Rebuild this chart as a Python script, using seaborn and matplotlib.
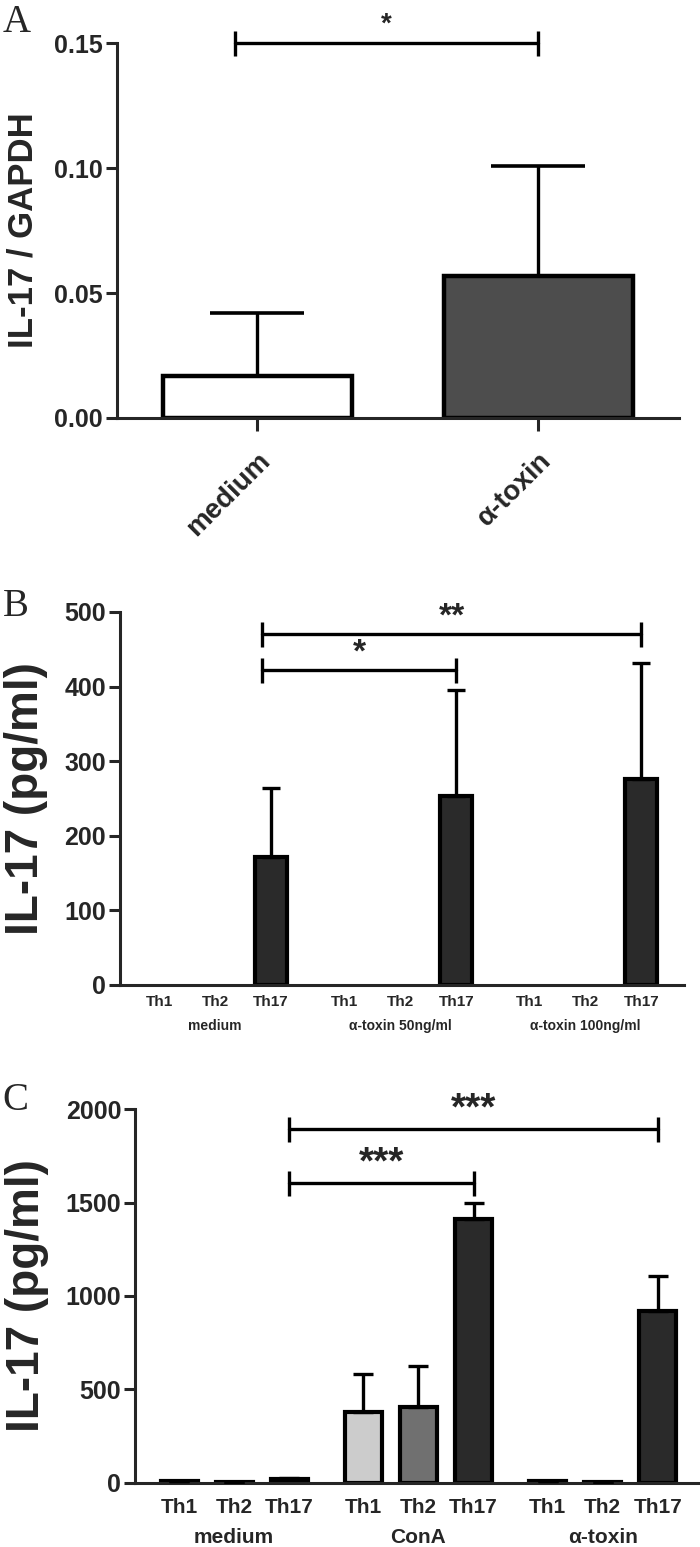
import matplotlib
matplotlib.use('Agg')
from matplotlib import pyplot as plt
from matplotlib import transforms
import seaborn as sns
import pandas as pd
import numpy as np

sns.set_style('ticks')
plt.rcParams['font.family'] = ['Liberation Sans', 'DejaVu Sans']
plt.rcParams['font.weight'] = 'bold'
plt.rcParams['axes.linewidth'] = 2.2

# ---- panel A : IL-17 mRNA relative to GAPDH ----
aTreatments = ['medium', 'α-toxin']
aMean = [0.017, 0.057]
aSem = [0.025, 0.044]
aColors = ['#ffffff', '#4d4d4d']
aSig = [('medium', 'α-toxin', 0.15, '*')]

# ---- panel B : IL-17 protein, alpha-toxin doses ----
cellTypes = ['Th1', 'Th2', 'Th17']
bGroups = ['medium', 'α-toxin 50ng/ml', 'α-toxin 100ng/ml']
bTh1Mean = [None, None, None]
bTh2Mean = [None, None, None]
bTh17Mean = [171, 253, 276]
bTh1Sem = [None, None, None]
bTh2Sem = [None, None, None]
bTh17Sem = [93, 142, 155]
bSig = [(('medium', 'Th17'), ('α-toxin 100ng/ml', 'Th17'), 471, '**'),
        (('medium', 'Th17'), ('α-toxin 50ng/ml', 'Th17'), 422, '*')]

# ---- panel C : IL-17 protein, ConA vs alpha-toxin ----
cGroups = ['medium', 'ConA', 'α-toxin']
cTh1Mean = [8, 380, 8]
cTh2Mean = [5, 404, 4]
cTh17Mean = [20, 1413, 921]
cTh1Sem = [4, 202, 4]
cTh2Sem = [2, 221, 2]
cTh17Sem = [6, 87, 186]
cSig = [(('medium', 'Th17'), ('α-toxin', 'Th17'), 1893, '***'),
        (('medium', 'Th17'), ('ConA', 'Th17'), 1604, '***')]

cellPalette = {'Th1': '#cccccc', 'Th2': '#707070', 'Th17': '#2a2a2a'}


def styleAxis(ax, tickSize):
    sns.despine(ax=ax)
    for side in ['left', 'bottom']:
        ax.spines[side].set_linewidth(2.2)
    ax.tick_params(axis='y', width=2.2, length=8, labelsize=tickSize, pad=2)
    for lab in ax.get_yticklabels():
        lab.set_fontweight('bold')


def bracket(ax, x1, x2, y, stars, starSize, offset):
    ax.plot([x1, x2], [y, y], color='black', lw=2.4, marker='|',
            markersize=18, markeredgewidth=2.4, clip_on=False, zorder=5)
    ax.annotate(stars, xy=((x1 + x2) / 2, y), xytext=(0, offset),
                textcoords='offset points', ha='center', va='center',
                fontsize=starSize, fontweight='bold', annotation_clip=False)


def groupedPanel(ax, groups, means, sems, width, gap, capsize):
    frames = []
    for cell in cellTypes:
        frames.append(pd.DataFrame({'group': groups, 'cell': cell,
                                    'mean': means[cell], 'sem': sems[cell]}))
    df = pd.concat(frames, ignore_index=True)
    df['mean'] = pd.to_numeric(df['mean'])
    df['sem'] = pd.to_numeric(df['sem'])
    slot = width / len(cellTypes)
    gIdx = df['group'].map({g: i for i, g in enumerate(groups)})
    cIdx = df['cell'].map({c: i for i, c in enumerate(cellTypes)})
    df['x'] = gIdx - width / 2 + slot * (cIdx + 0.5)
    shown = df.dropna(subset=['mean'])
    sns.barplot(data=shown, x='group', y='mean', hue='cell', order=groups,
                hue_order=cellTypes, palette=cellPalette, width=width, gap=gap,
                dodge=True, edgecolor='black', linewidth=3, errorbar=None,
                legend=False, ax=ax)
    ax.errorbar(shown['x'], shown['mean'], yerr=[np.zeros(len(shown)), shown['sem']],
                fmt='none', ecolor='black', elinewidth=2.4, capsize=capsize,
                capthick=2.4, zorder=4)
    allX = df.sort_values('x')
    ax.set_xticks(allX['x'])
    ax.set_xticklabels(allX['cell'])
    ax.tick_params(axis='x', length=0)
    return df


fig = plt.figure(figsize=(7, 15.47), dpi=100)

# ---------------- A ----------------
axA = fig.add_axes([0.167, 0.7298, 0.803, 0.2424])
dfA = pd.DataFrame({'treatment': aTreatments, 'mean': aMean, 'sem': aSem})
sns.barplot(data=dfA, x='treatment', y='mean', hue='treatment', palette=aColors,
            width=0.67, edgecolor='black', linewidth=3.2, errorbar=None,
            legend=False, ax=axA)
axA.errorbar(range(len(aTreatments)), dfA['mean'], yerr=[np.zeros(len(dfA)), dfA['sem']],
             fmt='none', ecolor='black', elinewidth=2.4, capsize=34, capthick=2.6, zorder=4)
axA.set_xlim(-0.5, 1.5)
axA.set_ylim(0, 0.15)
axA.set_yticks([0, 0.05, 0.10, 0.15])
axA.set_yticklabels(['0.00', '0.05', '0.10', '0.15'])
styleAxis(axA, 18)
axA.tick_params(axis='x', width=2.2, length=9, pad=12)
axA.set_xticks(range(len(aTreatments)))
axA.set_xticklabels(aTreatments, rotation=45, ha='right', rotation_mode='anchor',
                    fontsize=20, fontweight='bold')
axA.set_xlabel('')
axA.set_ylabel('IL-17 / GAPDH', fontsize=25, fontweight='bold')
axA.yaxis.set_label_coords(-0.138, 0.5)
for left, right, level, stars in aSig:
    bracket(axA, aTreatments.index(left) - 0.08, aTreatments.index(right), level, stars, 20, 13)

# ---------------- B ----------------
axB = fig.add_axes([0.1714, 0.3633, 0.806, 0.2411])
dfB = groupedPanel(axB, bGroups,
                   {'Th1': bTh1Mean, 'Th2': bTh2Mean, 'Th17': bTh17Mean},
                   {'Th1': bTh1Sem, 'Th2': bTh2Sem, 'Th17': bTh17Sem},
                   width=0.909, gap=0.43, capsize=6.5)
axB.set_xlim(-0.514, 2.535)
axB.set_ylim(0, 500)
axB.set_yticks([0, 100, 200, 300, 400, 500])
styleAxis(axB, 18)
axB.tick_params(axis='x', labelsize=11, pad=7)
axB.set_xlabel('')
axB.set_ylabel('IL-17 (pg/ml)', fontsize=33, fontweight='bold')
axB.yaxis.set_label_coords(-0.128, 0.5)
trB = transforms.blended_transform_factory(axB.transData, axB.transAxes)
for i, g in enumerate(bGroups):
    axB.text(i, -0.11, g, transform=trB, ha='center', va='center', fontsize=10, fontweight='bold')
posB = dfB.set_index(['group', 'cell'])['x']
for left, right, level, stars in bSig:
    bracket(axB, posB[left] - 0.05, posB[right], level, stars, 24, 12)

# ---------------- C ----------------
axC = fig.add_axes([0.1929, 0.0414, 0.807, 0.2417])
dfC = groupedPanel(axC, cGroups,
                   {'Th1': cTh1Mean, 'Th2': cTh2Mean, 'Th17': cTh17Mean},
                   {'Th1': cTh1Sem, 'Th2': cTh2Sem, 'Th17': cTh17Sem},
                   width=0.896, gap=0.33, capsize=7)
axC.set_xlim(-0.538, 2.527)
axC.set_ylim(0, 2000)
axC.set_yticks([0, 500, 1000, 1500, 2000])
styleAxis(axC, 18)
axC.tick_params(axis='x', labelsize=15, pad=11)
axC.set_xlabel('')
axC.set_ylabel('IL-17 (pg/ml)', fontsize=33, fontweight='bold')
axC.yaxis.set_label_coords(-0.152, 0.5)
trC = transforms.blended_transform_factory(axC.transData, axC.transAxes)
for i, g in enumerate(cGroups):
    axC.text(i, -0.147, g, transform=trC, ha='center', va='center', fontsize=15, fontweight='bold')
posC = dfC.set_index(['group', 'cell'])['x']
for left, right, level, stars in cSig:
    bracket(axC, posC[left], posC[right], level, stars, 28, 14)

# panel letters
for letter, ypix in [('A', 4), ('B', 588), ('C', 1082)]:
    fig.text(0.004, 1 - ypix / 1547, letter, ha='left', va='top', fontsize=28,
             fontweight='normal', family=['Liberation Serif', 'DejaVu Serif'])

fig.savefig('out.png', dpi=100)
